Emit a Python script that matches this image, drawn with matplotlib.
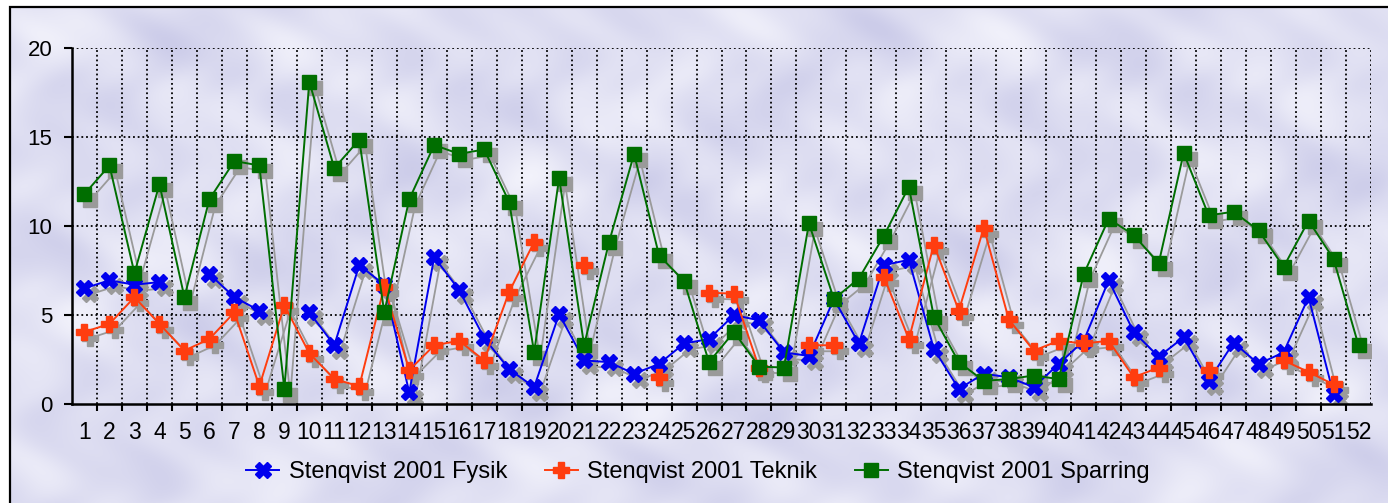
import numpy as np
import matplotlib
matplotlib.use("Agg")
import matplotlib.pyplot as plt
import matplotlib.transforms as mtransforms
from matplotlib.patches import Rectangle

nan = np.nan

# =====================
# DATA
# =====================
weeks = np.arange(1, 53)
week_labels = [str(w) for w in weeks]

fysik = [6.5, 6.95, 6.7, 6.85, nan, 7.3, 6.0, 5.25, nan, 5.15,
         3.3, 7.8, 6.7, 0.65, 8.25, 6.4, 3.7, 1.95, 0.95, 5.05,
         2.45, 2.35, 1.7, 2.25, 3.4, 3.65, 5.0, 4.7, 2.9, 2.7,
         5.9, 3.4, 7.8, 8.1, 3.1, 0.85, 1.7, 1.5, 0.95, 2.25,
         3.55, 6.95, 4.05, 2.65, 3.75, 1.3, 3.45, 2.25, 2.9, 6.0,
         0.55, nan]

teknik = [4.05, 4.5, 6.0, 4.5, 3.0, 3.65, 5.15, 1.0, 5.55, 2.85,
          1.4, 1.0, 6.6, 1.9, 3.3, 3.55, 2.45, 6.3, 9.1, nan,
          7.8, nan, nan, 1.5, nan, 6.25, 6.2, 2.05, nan, 3.3,
          3.3, nan, 7.15, 3.65, 8.95, 5.25, 9.9, 4.75, 3.0, 3.55,
          3.4, 3.55, 1.5, 2.05, nan, 1.9, nan, nan, 2.45, 1.8,
          1.1, nan]

sparring = [11.8, 13.4, 7.35, 12.35, 6.0, 11.5, 13.65, 13.4, 0.85, 18.1,
            13.25, 14.85, 5.15, 11.5, 14.55, 14.05, 14.3, 11.35, 2.9, 12.7,
            3.3, 9.1, 14.05, 8.35, 6.9, 2.35, 4.05, 2.1, 2.05, 10.15,
            5.9, 7.05, 9.45, 12.2, 4.9, 2.35, 1.3, 1.4, 1.6, 1.4,
            7.3, 10.4, 9.5, 7.9, 14.1, 10.6, 10.8, 9.75, 7.7, 10.3,
            8.15, 3.3]

series = [
    ("Stenqvist 2001 Fysik", fysik, "#0000ee", "X", 12),
    ("Stenqvist 2001 Teknik", teknik, "#ff3d0f", "P", 12),
    ("Stenqvist 2001 Sparring", sparring, "#006e00", "s", 10),
]

# =====================
# FIGURE
# =====================
W, H = 1388, 503
fig = plt.figure(figsize=(W / 100, H / 100), dpi=100)

# mottled lavender background
bg = fig.add_axes([0, 0, 1, 1], zorder=-10)
yy, xx = np.mgrid[0:H, 0:W]
tex = (np.sin(xx / 37.0) * np.sin(yy / 23.0)
       + 0.6 * np.sin((xx + yy) / 51.0)
       + 0.5 * np.cos((xx - 2 * yy) / 29.0)
       + 0.4 * np.sin(xx / 13.0 + np.cos(yy / 17.0) * 2))
tex = (tex - tex.min()) / (tex.max() - tex.min())
dark = np.array([0.80, 0.80, 0.915])
light = np.array([0.95, 0.95, 0.985])
img = dark + (light - dark) * tex[..., None]
img[(xx < 10) | (yy < 8)] = 1.0
bg.imshow(img, aspect="auto", extent=[0, 1, 0, 1], origin="upper")
bg.axis("off")
fig.patches.append(Rectangle((9.5 / W, -0.1), 1.2, 1.1 - 7.5 / H,
                             transform=fig.transFigure, fill=False,
                             edgecolor="black", linewidth=1.6))

ax = fig.add_axes([72 / W, 1 - 404 / H, (1371 - 72) / W, (404 - 48) / H])
ax.set_facecolor("none")

shadow = mtransforms.offset_copy(ax.transData, fig=fig, x=6, y=-6, units="dots")
for name, vals, col, mk, ms in series:
    ax.plot(weeks, vals, color="#9a9a9a", lw=1.3, marker=mk, ms=ms,
            mec="#9a9a9a", mfc="#9a9a9a", transform=shadow, zorder=2)
for name, vals, col, mk, ms in series:
    ax.plot(weeks, vals, color=col, lw=1.4, marker=mk, ms=ms,
            mec=col, mfc=col, label=name, zorder=3)

ax.set_xlim(0.5, 52.5)
ax.set_ylim(0, 20)
ax.set_yticks([0, 5, 10, 15, 20])
ax.set_xticks(weeks)
ax.set_xticklabels(week_labels)
ax.set_xticks(np.arange(1.5, 52.5, 1), minor=True)

grid_style = dict(color="black", linestyle=(0, (1, 1.6)), linewidth=1.3)
for b in np.arange(1.5, 53, 1):
    ax.axvline(b, zorder=1, **grid_style)
for v in [5, 10, 15, 20]:
    ax.axhline(v, zorder=1, **grid_style)

for s in ["top", "right"]:
    ax.spines[s].set_visible(False)
ax.spines["left"].set_linewidth(1.8)
ax.spines["bottom"].set_linewidth(1.8)

ax.tick_params(axis="x", which="major", length=0, pad=12, labelsize=16.5)
ax.tick_params(axis="x", which="minor", length=5, width=1.5, direction="out")
ax.tick_params(axis="y", length=6, width=1.5, pad=8, labelsize=16)
for t in ax.get_xticklabels() + ax.get_yticklabels():
    t.set_family("Liberation Sans")

leg = fig.legend(loc="center", bbox_to_anchor=(698 / W, 1 - 472 / H), ncol=3,
                 frameon=False, handlelength=1.4, handletextpad=0.4,
                 columnspacing=1.6, prop={"family": "Liberation Sans", "size": 17})

fig.savefig("out.png", dpi=100)
